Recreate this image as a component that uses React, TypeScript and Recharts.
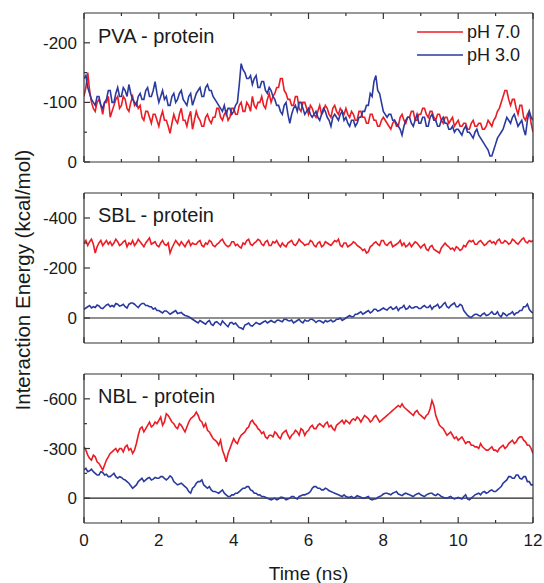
import React from 'react';
import { LineChart, Line, XAxis, YAxis, ReferenceLine } from 'recharts';

// time axis: one sample every 0.05 ns, 0..12 ns (20 values per row = 1 ns)
const TIME_STEP = 0.05;
const X_TICKS = [0, 1, 2, 3, 4, 5, 6, 7, 8, 9, 10, 11, 12];
const X_MAJOR = [0, 2, 4, 6, 8, 10, 12];

// PVA - protein
const pvaRed = [
  -110, -125, -150, -120, -100, -90, -85, -100, -105, -95, -80, -100, -100, -110, -75, -85, -95, -105, -110, -90,
  -95, -110, -105, -90, -85, -100, -110, -95, -100, -90, -95, -75, -70, -85, -85, -75, -65, -80, -80, -70,
  -60, -75, -85, -70, -70, -60, -48, -65, -80, -70, -65, -80, -90, -70, -70, -60, -75, -85, -55, -70,
  -85, -75, -70, -60, -60, -75, -80, -70, -65, -75, -75, -90, -90, -75, -70, -80, -85, -70, -75, -90,
  -90, -80, -80, -95, -100, -85, -85, -100, -95, -85, -110, -95, -90, -100, -100, -110, -95, -90, -105, -115,
  -100, -110, -115, -125, -125, -140, -140, -120, -115, -105, -105, -95, -95, -110, -110, -90, -85, -100, -100, -90,
  -80, -95, -90, -80, -75, -85, -95, -80, -85, -95, -90, -80, -75, -90, -95, -85, -80, -90, -85, -80,
  -90, -80, -75, -85, -80, -70, -70, -85, -85, -75, -75, -65, -65, -80, -80, -70, -70, -60, -60, -70,
  -75, -70, -65, -60, -55, -65, -70, -60, -60, -75, -80, -70, -65, -75, -75, -85, -85, -70, -70, -80,
  -80, -90, -90, -80, -75, -85, -85, -75, -70, -80, -80, -70, -65, -75, -75, -65, -70, -75, -60, -65,
  -70, -60, -60, -65, -65, -55, -55, -65, -70, -60, -60, -65, -65, -55, -55, -60, -70, -65, -60, -70,
  -75, -85, -90, -100, -110, -120, -120, -105, -95, -105, -105, -90, -80, -95, -95, -75, -70, -80, -85, -65,
  -50,
];
const pvaBlue = [
  -140, -145, -125, -115, -105, -100, -95, -110, -110, -95, -90, -100, -105, -120, -120, -100, -100, -115, -125, -110,
  -110, -125, -120, -110, -130, -115, -105, -100, -95, -110, -115, -105, -105, -120, -125, -110, -110, -120, -135, -115,
  -100, -110, -120, -105, -110, -95, -95, -110, -115, -100, -105, -115, -120, -105, -100, -95, -110, -115, -95, -105,
  -115, -120, -125, -110, -110, -125, -130, -120, -120, -110, -105, -100, -95, -90, -85, -95, -80, -90, -90, -80,
  -85, -95, -100, -130, -165, -155, -150, -140, -140, -145, -130, -140, -145, -125, -125, -135, -135, -120, -115, -125,
  -120, -110, -105, -95, -95, -85, -80, -95, -100, -80, -65, -80, -90, -95, -85, -100, -100, -90, -80, -85,
  -90, -80, -75, -80, -85, -75, -70, -80, -90, -85, -75, -70, -60, -75, -80, -75, -70, -80, -85, -70,
  -75, -65, -60, -70, -70, -60, -65, -75, -75, -85, -85, -95, -95, -115, -110, -135, -145, -120, -115, -100,
  -85, -80, -75, -80, -80, -70, -70, -65, -60, -55, -45, -60, -70, -75, -75, -65, -60, -70, -80, -65,
  -65, -75, -75, -60, -60, -75, -80, -70, -70, -60, -60, -70, -75, -65, -65, -55, -55, -60, -50, -55,
  -55, -50, -45, -55, -60, -50, -50, -45, -40, -50, -55, -45, -40, -35, -30, -25, -20, -10, -10, -20,
  -30, -40, -45, -50, -55, -65, -75, -70, -65, -75, -80, -70, -60, -65, -70, -55, -45, -70, -85, -75,
  -70,
];

// SBL - protein
const sblRed = [
  -300, -310, -290, -305, -315, -295, -260, -285, -300, -310, -290, -300, -310, -295, -305, -290, -300, -315, -305, -290,
  -295, -305, -310, -285, -300, -295, -310, -290, -300, -315, -305, -295, -285, -300, -310, -320, -295, -300, -305, -290,
  -285, -300, -310, -295, -290, -300, -260, -280, -295, -310, -300, -290, -305, -295, -285, -300, -310, -290, -300, -295,
  -295, -305, -310, -290, -285, -300, -295, -310, -305, -290, -285, -295, -300, -310, -315, -300, -290, -285, -290, -305,
  -305, -290, -295, -285, -280, -300, -295, -310, -315, -295, -290, -300, -305, -315, -310, -295, -290, -305, -310, -290,
  -290, -305, -300, -310, -295, -285, -300, -290, -285, -300, -305, -310, -295, -290, -300, -315, -305, -300, -290, -295,
  -295, -310, -305, -290, -285, -300, -305, -285, -290, -305, -300, -295, -290, -300, -310, -305, -315, -290, -285, -300,
  -300, -285, -290, -295, -305, -300, -290, -285, -280, -270, -275, -260, -265, -285, -290, -300, -305, -295, -290, -310,
  -310, -295, -290, -300, -305, -285, -290, -295, -300, -310, -290, -300, -285, -290, -300, -285, -295, -305, -300, -290,
  -280, -290, -295, -275, -270, -285, -290, -275, -270, -265, -260, -280, -290, -300, -290, -285, -275, -280, -270, -285,
  -280, -270, -275, -290, -285, -300, -310, -305, -310, -295, -295, -305, -310, -300, -290, -295, -305, -310, -300, -305,
  -295, -310, -315, -300, -300, -310, -305, -295, -300, -315, -310, -300, -295, -305, -315, -320, -305, -300, -310, -305,
  -310,
];
const sblBlue = [
  -35, -40, -45, -50, -40, -45, -42, -52, -48, -40, -38, -45, -52, -55, -45, -50, -45, -58, -55, -48,
  -50, -55, -45, -40, -55, -60, -60, -55, -48, -42, -52, -58, -58, -50, -50, -45, -45, -35, -40, -30,
  -30, -25, -20, -28, -28, -22, -15, -20, -25, -30, -18, -20, -22, -15, -10, -8, -5, 0, 5, 10,
  15, 20, 10, 15, 20, 25, 15, 10, 25, 30, 18, 15, 22, 28, 12, 20, 28, 35, 20, 18,
  25, 20, 30, 38, 40, 45, 28, 25, 20, 30, 32, 25, 18, 22, 25, 20, 15, 12, 20, 15,
  10, 15, 18, 10, 8, 12, 15, 5, 5, 10, 12, 8, 20, 15, 10, 5, 15, 20, 8, 12,
  12, 5, 5, 10, 18, 12, 10, 15, 20, 10, 15, 12, 8, 15, 12, 5, 5, 0, 10, 5,
  0, -5, -10, -5, -5, -15, -15, -20, -25, -15, -20, -25, -30, -20, -25, -35, -35, -28, -30, -35,
  -40, -35, -32, -40, -45, -35, -38, -45, -30, -40, -42, -50, -35, -38, -48, -40, -40, -45, -45, -38,
  -38, -45, -50, -42, -42, -50, -35, -45, -48, -55, -40, -45, -55, -62, -45, -40, -50, -55, -60, -45,
  -45, -55, -50, -30, -20, -10, -5, -2, -10, -15, -15, -10, -8, -15, -20, -10, -12, -18, -25, -15,
  -15, -25, -10, -5, -20, -15, -8, -15, -18, -25, -12, -20, -22, -30, -30, -45, -45, -55, -35, -25,
  -20,
];

// NBL - protein
const nblRed = [
  -310, -290, -260, -240, -230, -260, -250, -220, -210, -190, -170, -200, -230, -250, -270, -280, -290, -300, -280, -300,
  -300, -280, -310, -320, -290, -300, -270, -290, -330, -380, -420, -430, -400, -420, -440, -460, -430, -440, -460, -450,
  -470, -490, -440, -460, -510, -500, -480, -460, -450, -430, -420, -450, -440, -420, -400, -430, -460, -480, -490, -500,
  -520, -500, -470, -460, -430, -450, -410, -400, -380, -360, -350, -340, -320, -350, -290, -260, -220, -270, -300, -330,
  -360, -340, -330, -360, -380, -390, -400, -420, -430, -460, -470, -450, -440, -420, -410, -390, -400, -370, -360, -380,
  -380, -370, -400, -390, -370, -360, -390, -400, -410, -380, -360, -380, -390, -410, -400, -380, -420, -410, -380, -400,
  -410, -430, -440, -420, -420, -440, -450, -440, -430, -450, -460, -430, -440, -420, -410, -440, -450, -460, -470, -450,
  -470, -460, -450, -470, -480, -470, -490, -480, -460, -480, -500, -490, -480, -460, -470, -490, -500, -480, -460, -470,
  -480, -490, -500, -510, -520, -530, -540, -550, -560, -550, -570, -550, -540, -530, -520, -510, -500, -520, -530, -510,
  -500, -490, -480, -500, -510, -540, -590, -560, -500, -470, -440, -430, -420, -400, -380, -390, -400, -380, -360, -370,
  -350, -360, -370, -350, -330, -340, -340, -320, -320, -310, -310, -300, -330, -310, -300, -290, -290, -300, -310, -290,
  -290, -280, -300, -310, -320, -300, -310, -330, -340, -350, -330, -340, -360, -370, -370, -350, -340, -320, -320, -300,
  -270,
];
const nblBlue = [
  -170, -180, -160, -165, -175, -160, -150, -140, -140, -160, -155, -140, -145, -130, -130, -140, -150, -130, -120, -130,
  -125, -115, -110, -100, -90, -75, -60, -70, -80, -100, -110, -120, -100, -110, -120, -125, -110, -115, -125, -120,
  -120, -130, -130, -120, -110, -120, -135, -125, -100, -90, -80, -85, -90, -80, -70, -60, -40, -30, -60, -70,
  -90, -100, -100, -110, -80, -70, -60, -70, -50, -40, -40, -35, -30, -40, -50, -30, -20, -10, -10, -20,
  -20, -30, -30, -40, -50, -60, -60, -70, -70, -50, -45, -30, -30, -20, -20, -10, -10, -5, 0, 5,
  10, 5, 0, 10, 5, -5, -5, 0, 10, 5, 0, -10, -10, 0, 5, -10, -15, -20, -20, -25,
  -30, -40, -60, -70, -70, -60, -60, -50, -50, -60, -55, -45, -40, -35, -30, -25, -20, -15, -10, -20,
  -10, -5, -5, -10, 0, -5, -15, -10, -5, 0, 0, -5, -10, 5, 10, 5, 5, -5, -10, -15,
  -25, -30, -30, -25, -20, -30, -35, -40, -25, -20, -15, -25, -30, -25, -20, -15, -10, -20, -25, -30,
  -20, -15, -10, -20, -25, -30, -30, -20, -15, -25, -20, -10, -5, 0, 0, -5, -10, 0, 5, 0,
  -5, 0, 5, -10, -20, 5, 10, 0, -10, -20, -25, -30, -20, -35, -40, -30, -35, -45, -50, -40,
  -40, -50, -60, -70, -90, -100, -110, -130, -130, -120, -120, -140, -140, -120, -115, -130, -130, -100, -100, -80,
  -80,
];

const FONT = '"Liberation Sans", Arial, Helvetica, sans-serif';
const RED = '#ec1c24';
const BLUE = '#2b3a9e';
const INK = '#1a1a1a';
const FRAME = '#333';

// tick mark drawn inward from the frame; major ticks longer and optionally labelled
const makeTick = (side: 'bottom' | 'top' | 'left' | 'right', majors: number[], labels: boolean) => (props: any) => {
  const { x, y, payload } = props;
  const v = payload.value;
  const major = majors.includes(v);
  const len = major ? 6 : 3;
  let x2 = x;
  let y2 = y;
  if (side === 'bottom') y2 = y - len;
  if (side === 'top') y2 = y + len;
  if (side === 'left') x2 = x + len;
  if (side === 'right') x2 = x - len;
  return (
    <g>
      <line x1={x} y1={y} x2={x2} y2={y2} stroke={FRAME} strokeWidth={1.2} />
      {labels && major && side === 'bottom' && (
        <text x={x} y={y + 23} textAnchor="middle" fontSize={17} fill={INK} fontFamily={FONT}>{v}</text>
      )}
      {labels && major && side === 'left' && (
        <text x={x - 7} y={y + 6} textAnchor="end" fontSize={17} fill={INK} fontFamily={FONT}>{v}</text>
      )}
    </g>
  );
};

interface PanelProps {
  top: number;
  height: number;
  marginTop: number;
  marginBottom: number;
  red: number[];
  blue: number[];
  domain: [number, number];
  ticks: number[];
  minor: number[];
  zero?: boolean;
  xLabels?: boolean;
}

const Panel: React.FC<PanelProps> = ({ top, height, marginTop, marginBottom, red, blue, domain, ticks, minor, zero, xLabels }) => {
  const data = red.map((v, i) => ({ t: i * TIME_STEP, red: v, blue: blue[i] }));
  const line = { stroke: FRAME, strokeWidth: 1.2 };
  const yTicks = [...ticks, ...minor];

  return (
    <div style={{ position: 'absolute', left: 0, top }}>
      <LineChart width={544} height={height} data={data} margin={{ top: marginTop - 1, right: 10, bottom: marginBottom - 1, left: 83 }}>
        <XAxis xAxisId="b" dataKey="t" type="number" domain={[0, 12]} ticks={X_TICKS} interval={0} height={1}
          tickSize={0} tickMargin={0} tickLine={false} axisLine={line} tick={makeTick('bottom', X_MAJOR, !!xLabels)} allowDataOverflow />
        <XAxis xAxisId="t" orientation="top" dataKey="t" type="number" domain={[0, 12]} ticks={X_TICKS} interval={0} height={1}
          tickSize={0} tickMargin={0} tickLine={false} axisLine={line} tick={makeTick('top', X_MAJOR, false)} />
        <YAxis yAxisId="l" type="number" reversed domain={domain} ticks={yTicks} interval={0} width={1}
          tickSize={0} tickMargin={0} tickLine={false} axisLine={line} tick={makeTick('left', ticks, true)} allowDataOverflow />
        <YAxis yAxisId="r" orientation="right" type="number" reversed domain={domain} ticks={yTicks} interval={0} width={1}
          tickSize={0} tickMargin={0} tickLine={false} axisLine={line} tick={makeTick('right', ticks, false)} />
        {zero && <ReferenceLine xAxisId="b" yAxisId="l" y={0} stroke="#222" strokeWidth={1.2} />}
        <Line xAxisId="b" yAxisId="l" dataKey="red" stroke={RED} strokeWidth={1.6} dot={false} isAnimationActive={false} />
        <Line xAxisId="b" yAxisId="l" dataKey="blue" stroke={BLUE} strokeWidth={1.6} dot={false} isAnimationActive={false} />
      </LineChart>
    </div>
  );
};

const labelStyle: React.CSSProperties = {
  position: 'absolute', left: 98, fontSize: 20, lineHeight: '20px', color: INK, whiteSpace: 'nowrap',
};

const legendRow = (color: string, text: string, top: number) => (
  <div style={{ position: 'absolute', left: 417, top, display: 'flex', alignItems: 'center', fontSize: 18, lineHeight: '18px', color: INK }}>
    <svg width={46} height={4} style={{ marginRight: 4 }}>
      <line x1={0} y1={2} x2={46} y2={2} stroke={color} strokeWidth={1.6} />
    </svg>
    <span>{text}</span>
  </div>
);

const App: React.FC = () => (
  <div style={{ position: 'absolute', left: 0, top: 0, width: 544, height: 583, background: '#fff', fontFamily: FONT }}>
    <Panel top={0} height={180} marginTop={13} marginBottom={18} red={pvaRed} blue={pvaBlue}
      domain={[-250, 0]} ticks={[-200, -100, 0]} minor={[-150, -50]} />
    <Panel top={180} height={180} marginTop={13} marginBottom={17} red={sblRed} blue={sblBlue}
      domain={[-500, 100]} ticks={[-400, -200, 0]} minor={[-300, -100]} zero />
    <Panel top={360} height={223} marginTop={14} marginBottom={60} red={nblRed} blue={nblBlue}
      domain={[-750, 150]} ticks={[-600, -300, 0]} minor={[-450, -150]} zero xLabels />

    <div style={{ ...labelStyle, top: 26 }}>PVA - protein</div>
    <div style={{ ...labelStyle, top: 205 }}>SBL - protein</div>
    <div style={{ ...labelStyle, top: 386 }}>NBL - protein</div>

    {legendRow(RED, 'pH 7.0', 23)}
    {legendRow(BLUE, 'pH 3.0', 46)}

    <div style={{ position: 'absolute', left: 23, top: 280, transform: 'translate(-50%, -50%) rotate(-90deg)', fontSize: 20.5, lineHeight: 1, color: INK, whiteSpace: 'nowrap' }}>
      Interaction Energy (kcal/mol)
    </div>
    <div style={{ position: 'absolute', left: 308.5, top: 573, transform: 'translate(-50%, -50%)', fontSize: 19, lineHeight: 1, color: INK, whiteSpace: 'nowrap' }}>
      Time (ns)
    </div>
  </div>
);

export default App;
